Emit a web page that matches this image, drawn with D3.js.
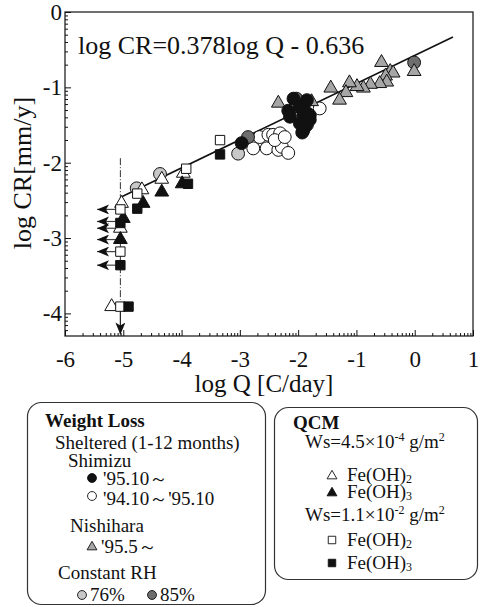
<!DOCTYPE html>
<html>
<head>
<meta charset="utf-8">
<script src="https://d3js.org/d3.v7.min.js"></script>
<style>
body { margin: 0; background: #fff; }
text { font-family: "Liberation Serif", "Times New Roman", serif; fill: #111; }
.lg { font-size: 19px; }
</style>
</head>
<body>
<svg width="481" height="607"></svg>
<script>

// values: [log Q, log CR]
var xTicks = [-6, -5, -4, -3, -2, -1, 0, 1];
var yTicks = [0, -1, -2, -3, -4];

var shimizu9510 = [[-2.08,-1.15],[-1.85,-1.17],[-2.17,-1.31],[-2.14,-1.39],[-1.97,-1.26],[-1.91,-1.37],
  [-1.85,-1.34],[-1.80,-1.43],[-1.97,-1.48],[-1.91,-1.57],[-1.80,-1.37],[-1.85,-1.50],[-1.93,-1.60],[-2.97,-1.74]];
var shimizu9410 = [[-2.66,-1.66],[-2.51,-1.63],[-2.43,-1.63],[-2.31,-1.61],[-2.77,-1.81],[-2.54,-1.81],
  [-2.34,-1.83],[-2.28,-1.79],[-2.17,-1.87],[-1.63,-1.28],[-2.40,-1.70],[-2.23,-1.66]];
var nishihara = [[-0.57,-0.67],[-0.42,-0.79],[-0.37,-0.81],[-0.50,-0.85],[-0.48,-0.93],[-0.60,-0.95],
  [-0.76,-0.96],[-0.88,-1.01],[-0.99,-0.99],[-1.12,-0.94],[-1.18,-1.07],[-1.29,-1.17],[-1.44,-1.01],
  [-0.01,-0.79],[-1.77,-1.19],[-2.34,-1.21]];
var rh76 = [[-4.37,-2.15],[-4.77,-2.34],[-3.03,-1.88]];
var rh85 = [[-0.01,-0.67],[-2.86,-1.66],[-2.03,-1.15]];

var qcmLowOH2 = [[-4.34,-2.22],[-3.97,-2.14],[-4.68,-2.36],[-5.03,-2.54],[-5.05,-2.87],[-5.20,-3.91]];
var qcmLowOH3 = [[-4.34,-2.39],[-3.99,-2.28],[-4.66,-2.54],[-5.00,-2.74],[-5.05,-3.02]];
var qcmHighOH2 = [[-3.92,-2.08],[-3.34,-1.70],[-4.76,-2.41],[-5.05,-2.62],[-5.05,-3.18],[-5.05,-3.91]];
var qcmHighOH3 = [[-3.34,-1.89],[-3.89,-2.28],[-4.76,-2.61],[-5.05,-2.80],[-5.05,-3.36],[-4.91,-3.91]];

// detection limit of QCM
var limitQ = -5.05;
var boundY = [-2.62, -2.78, -2.87, -3.02, -3.18, -3.36];   // CR values pointing to lower Q
var arrowToQ = -5.45;
var downFrom = -3.91, downTo = -4.28;
var limitLine = [-1.94, -3.82];

// fitted line as drawn
var fitLine = [[-5.045, -2.459], [0.656, -0.332]];

var svg = d3.select("svg");

var x = d3.scaleLinear().domain([-6, 1]).range([65, 473]);
var y = d3.scaleLinear().domain([-4.3, 0]).range([336, 12]);

// log minor ticks inside each decade
function minor(lo, hi) {
  var out = [];
  for (var d = Math.floor(lo); d < hi; d++)
    for (var k = 2; k < 10; k++) {
      var v = d + Math.log10(k);
      if (v > lo && v < hi) out.push(v);
    }
  return out;
}

function clean(s) {
  s.attr("font-family", "Liberation Serif, serif").attr("font-size", 23);
  s.select(".domain").remove();
}

var g = svg.append("g");

g.append("g").attr("transform", "translate(0,336)")
    .call(d3.axisBottom(x).tickValues(minor(-6, 1)).tickSize(-3).tickFormat(""))
    .call(clean);
g.append("g").attr("transform", "translate(65,0)")
    .call(d3.axisLeft(y).tickValues(minor(-4.3, 0)).tickSize(-3).tickFormat(""))
    .call(clean);

g.append("g").attr("transform", "translate(0,336)")
    .call(d3.axisBottom(x).tickValues(xTicks).tickSize(-6).tickPadding(15).tickFormat(function(d) { return String(d); }))
    .call(clean);
g.append("g").attr("transform", "translate(65,0)")
    .call(d3.axisLeft(y).tickValues(yTicks).tickSize(-6).tickPadding(3).tickFormat(function(d) { return String(d); }))
    .call(clean);

svg.selectAll(".tick line").attr("stroke", "#111");
svg.selectAll(".tick text").attr("fill", "#111")
    .style("font-family", "'Liberation Serif', serif").style("font-size", "23px");

g.append("rect")
    .attr("x", x(-6)).attr("y", y(0))
    .attr("width", x(1) - x(-6)).attr("height", y(-4.3) - y(0))
    .attr("fill", "none").attr("stroke", "#111").attr("stroke-width", 1.2);

// titles
svg.append("text").attr("x", 264).attr("y", 392).attr("text-anchor", "middle")
    .style("font-size", "25px").text("log Q [C/day]");
svg.append("text").attr("transform", "translate(31,173) rotate(-90)").attr("text-anchor", "middle")
    .style("font-size", "26px").text("log CR[mm/y]");
svg.append("text").attr("x", 78).attr("y", 54)
    .style("font-size", "26px").text("log CR=0.378log Q - 0.636");

// detection limit (dash-dot)
g.append("line")
    .attr("x1", x(limitQ)).attr("x2", x(limitQ))
    .attr("y1", y(limitLine[0])).attr("y2", y(limitLine[1]))
    .attr("stroke", "#333").attr("stroke-width", 1).attr("stroke-dasharray", "7,2,1,2");

// regression line
g.append("path")
    .attr("d", d3.line().x(function(d) { return x(d[0]); }).y(function(d) { return y(d[1]); })(fitLine))
    .attr("fill", "none").attr("stroke", "#111").attr("stroke-width", 1.6);

// arrows
svg.append("defs").append("marker")
    .attr("id", "head").attr("viewBox", "0 0 12 10").attr("refX", 12).attr("refY", 5)
    .attr("markerWidth", 12).attr("markerHeight", 10).attr("markerUnits", "userSpaceOnUse")
    .attr("orient", "auto")
  .append("path").attr("d", "M0,0L12,5L0,10L3,5Z").attr("fill", "#111");

g.selectAll(".bound").data(boundY).enter().append("line")
    .attr("x1", x(limitQ)).attr("x2", x(arrowToQ))
    .attr("y1", function(d) { return y(d); }).attr("y2", function(d) { return y(d); })
    .attr("stroke", "#444").attr("stroke-width", 1.2).attr("marker-end", "url(#head)");

g.append("line")
    .attr("x1", x(limitQ)).attr("x2", x(limitQ))
    .attr("y1", y(downFrom)).attr("y2", y(downTo))
    .attr("stroke", "#222").attr("stroke-width", 1.2).attr("marker-end", "url(#head)");

// markers
var circle = d3.symbol().type(d3.symbolCircle).size(130);
var tri = d3.symbol().type(d3.symbolTriangle).size(82);
var sq = d3.symbol().type(d3.symbolSquare).size(88);

function plot(data, sym, fill) {
  g.append("g").selectAll("path").data(data).enter().append("path")
      .attr("transform", function(d) { return "translate(" + x(d[0]) + "," + y(d[1]) + ")"; })
      .attr("d", sym)
      .attr("fill", fill).attr("stroke", "#111").attr("stroke-width", 1);
}

plot(shimizu9410, circle, "#fff");
plot(rh76, circle, "#c8c8c8");
plot(rh85, circle, "#6e6e6e");
plot(nishihara, tri, "#a6a6a6");
plot(shimizu9510, circle, "#111");
plot(qcmLowOH2, tri, "#fff");
plot(qcmLowOH3, tri, "#111");
plot(qcmHighOH2, sq, "#fff");
plot(qcmHighOH3, sq, "#111");

// legend boxes
svg.append("rect").attr("x", 27.5).attr("y", 402.5).attr("width", 238).attr("height", 202).attr("rx", 14)
    .attr("fill", "#fff").attr("stroke", "#333").attr("stroke-width", 1.2);
svg.append("rect").attr("x", 274.5).attr("y", 407.5).attr("width", 203).attr("height", 172).attr("rx", 14)
    .attr("fill", "#fff").attr("stroke", "#333").attr("stroke-width", 1.2);

var lc = d3.symbol().type(d3.symbolCircle).size(62);
var lt = d3.symbol().type(d3.symbolTriangle).size(42);
var ls = d3.symbol().type(d3.symbolSquare).size(56);

var legendItems = [
  { sym: lc, fill: "#111", x: 92, y: 478 },
  { sym: lc, fill: "#fff", x: 92, y: 496 },
  { sym: lt, fill: "#a6a6a6", x: 92, y: 547 },
  { sym: lc, fill: "#c8c8c8", x: 82, y: 595 },
  { sym: lc, fill: "#6e6e6e", x: 152, y: 595 },
  { sym: lt, fill: "#fff", x: 332, y: 476 },
  { sym: lt, fill: "#111", x: 332, y: 493 },
  { sym: ls, fill: "#fff", x: 332, y: 540 },
  { sym: ls, fill: "#111", x: 332, y: 563 }
];
svg.selectAll(".lgm").data(legendItems).enter().append("path")
    .attr("transform", function(d) { return "translate(" + d.x + "," + d.y + ")"; })
    .attr("d", function(d) { return d.sym(); })
    .attr("fill", function(d) { return d.fill; }).attr("stroke", "#111").attr("stroke-width", 0.9);

function label(xp, yp, str, bold) {
  return svg.append("text").attr("class", "lg").attr("x", xp).attr("y", yp)
      .style("font-weight", bold ? "bold" : "normal").text(str);
}

label(45, 427, "Weight Loss", true);
label(55, 449, "Sheltered (1-12 months)");
label(68, 467, "Shimizu");
label(103, 485, "'95.10～");
label(103, 505, "'94.10～'95.10");
label(70, 532, "Nishihara");
label(101, 553, "'95.5～");
label(58, 579, "Constant RH");
label(90, 601, "76%");
label(160, 601, "85%");

label(293, 429, "QCM", true);

function ws(yp, mant, exp) {
  var t = label(305, yp, "Ws=" + mant + "×10");
  t.append("tspan").attr("dy", -7).style("font-size", "12px").text(exp);
  t.append("tspan").attr("dy", 7).text(" g/m");
  t.append("tspan").attr("dy", -7).style("font-size", "12px").text("2");
}
ws(448, "4.5", "-4");
ws(521, "1.1", "-2");

function feoh(yp, n) {
  var t = label(347, yp, "Fe(OH)");
  t.append("tspan").attr("dy", 2).style("font-size", "12px").text(n);
}
feoh(481, "2");
feoh(498, "3");
feoh(546, "2");
feoh(569, "3");

</script>
</body>
</html>
